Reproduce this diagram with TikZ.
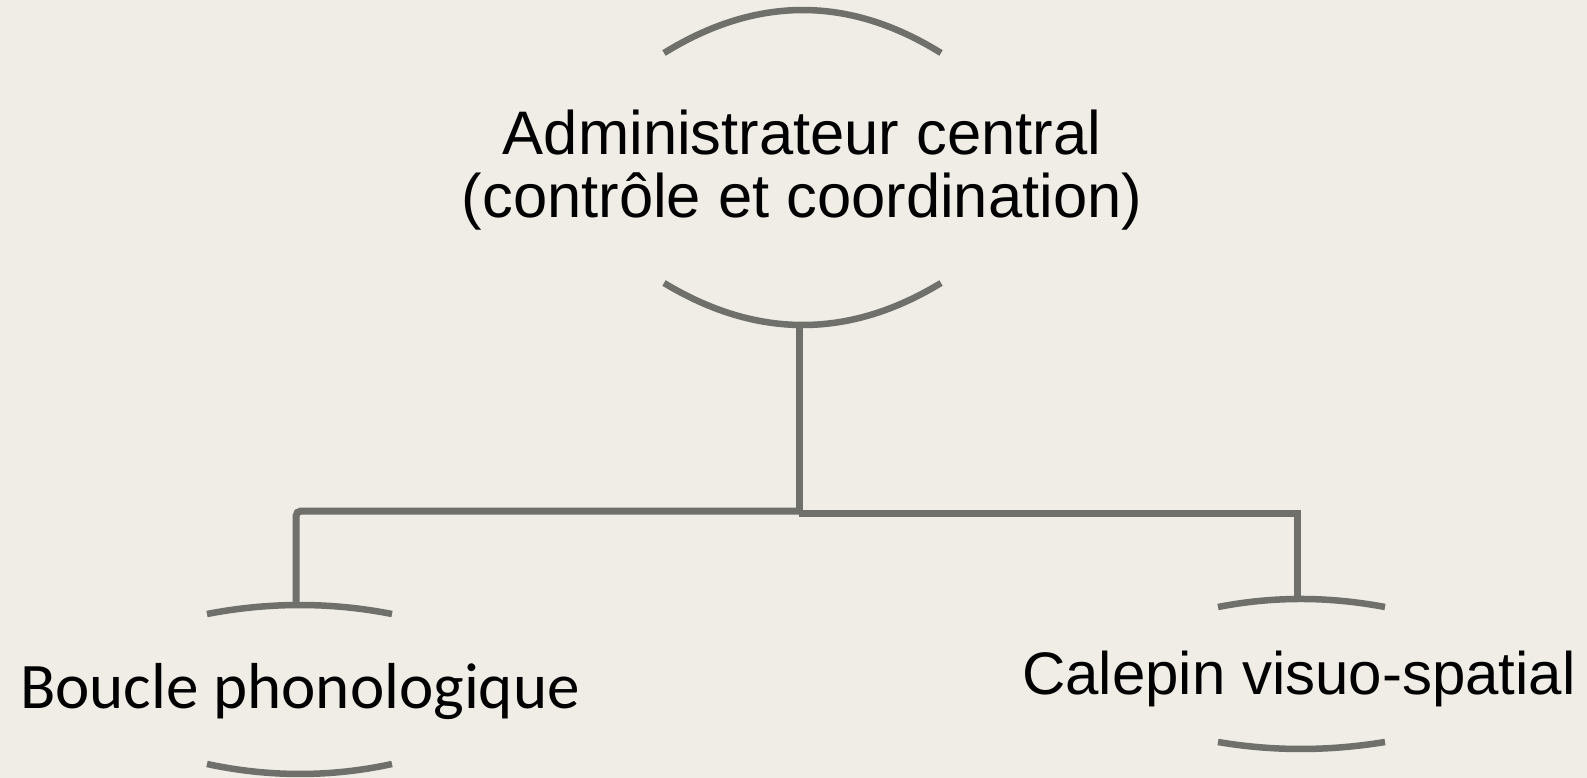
\documentclass[tikz,border=0pt]{standalone}
\usepackage{fontspec}
\setmainfont{Liberation Sans}
\newfontfamily\calfont{Carlito}
\definecolor{bgc}{HTML}{EFEDE5}
\definecolor{linec}{HTML}{6F706B}
\begin{document}
\begin{tikzpicture}[x=1pt,y=-1pt,
  arcline/.style={draw=linec,line width=6.5pt},
  conn/.style={draw=linec,line width=7pt},
  lbl/.style={inner sep=0pt,text=black,align=center}]
\fill[bgc] (0,0) rectangle (1587,778);
\useasboundingbox (0,0) rectangle (1587,778);
% central node
\node[lbl,anchor=base,font=\fontsize{61.5}{63}\selectfont] (central) at (802,218)
  {Administrateur central\\(contrôle et coordination)};
\coordinate (ctop) at (803,10);
\coordinate (cbot) at (799,325);
\draw[arcline] (664,53) .. controls (756.7,-4.3) and (849,-4.3) .. (941,53);
\draw[arcline] (664,283) .. controls (756.7,339) and (849,339) .. (941,283);
% left node
\node[lbl,anchor=base,font=\calfont\fontsize{65}{70}\selectfont] (boucle) at (300,708) {Boucle phonologique};
\coordinate (ltop) at (296,606);
\draw[arcline] (207,614) .. controls (269,602) and (331,602) .. (392,614);
\draw[arcline] (207,764) .. controls (269,777.3) and (331,777.3) .. (392,764);
% right node
\node[lbl,anchor=base,font=\fontsize{60}{66}\selectfont] (calepin) at (1299,694) {Calepin visuo-spatial};
\coordinate (rtop) at (1297,600);
\draw[arcline] (1218,607) .. controls (1273,596.3) and (1328,596.3) .. (1385,607);
\draw[arcline] (1218,742) .. controls (1273,751.3) and (1328,751.3) .. (1385,742);
% connectors
\coordinate (cjoin) at (799,513);
\coordinate (ljoin) at (799,511);
\draw[conn] (cbot) -- (cjoin);
\draw[conn,rounded corners=5pt] (ljoin) -| (ltop);
\draw[conn] (cjoin) -| (rtop);
\end{tikzpicture}
\end{document}
